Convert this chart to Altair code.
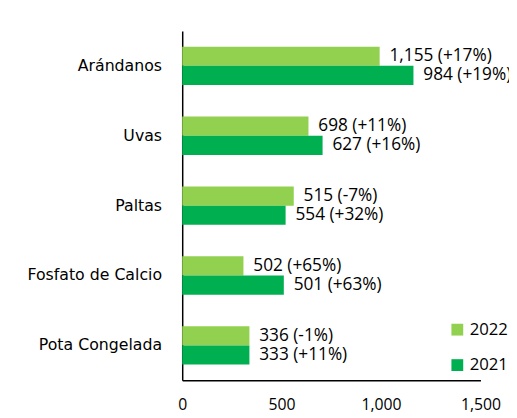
import altair as alt
import pandas as pd

categories = ["Arándanos", "Uvas", "Paltas", "Fosfato de Calcio", "Pota Congelada"]
years = ["2022", "2021"]
bar_2022 = [993, 635, 561, 308, 338]
bar_2021 = [1163, 706, 520, 511, 338]
label_2022 = ["1,155 (+17%)", "698 (+11%)", "515 (-7%)", "502 (+65%)", "336 (-1%)"]
label_2021 = ["984 (+19%)", "627 (+16%)", "554 (+32%)", "501 (+63%)", "333 (+11%)"]
x_ticks = [0, 500, 1000, 1500]
colors = ["#92D050", "#00B050"]

rows = []
for i, c in enumerate(categories):
    rows.append({"cat": c, "year": "2022", "value": bar_2022[i], "label": label_2022[i]})
    rows.append({"cat": c, "year": "2021", "value": bar_2021[i], "label": label_2021[i]})
df = pd.DataFrame(rows)

FONT = "Open Sans"

y = alt.Y("cat:N", sort=categories, title=None,
          scale=alt.Scale(paddingInner=0.45, paddingOuter=0.225),
          axis=alt.Axis(ticks=False, domainColor="#000000", domainWidth=1.5,
                        labelPadding=21, labelFontSize=16, labelFont="DejaVu Sans",
                        labelColor="#000000", labelLimit=300))
yoff = alt.YOffset("year:N", sort=years)
x = alt.X("value:Q", title=None,
          scale=alt.Scale(domain=[0, 1500], nice=False),
          axis=alt.Axis(values=x_ticks, format=",d", ticks=False, grid=False,
                        domainColor="#000000", domainWidth=1.5, labelPadding=17,
                        labelFontSize=16, labelFont=FONT, labelColor="#000000",
                        labelFlush=False))

bars = alt.Chart(df).mark_bar().encode(
    y=y, yOffset=yoff, x=x,
    color=alt.Color("year:N", sort=years,
                    scale=alt.Scale(domain=years, range=colors),
                    legend=alt.Legend(title=None, orient="none", legendX=271, legendY=295,
                                      symbolType="square", symbolSize=144,
                                      symbolStrokeWidth=0, labelFontSize=17,
                                      labelFont=FONT, labelColor="#000000",
                                      labelOffset=4, rowPadding=18)),
)

text = alt.Chart(df).mark_text(align="left", baseline="middle", dx=10,
                               fontSize=17.5, font=FONT, color="#000000").encode(
    y=alt.Y("cat:N", sort=categories), yOffset=yoff, x="value:Q", text="label:N"
)

chart = (bars + text).properties(
    width=303, height=355,
    autosize=alt.AutoSizeParams(type="none"),
    padding={"left": 177, "top": 20, "right": 29, "bottom": 37},
).configure_view(stroke=None)

chart.save("out.html", embed_options={"renderer": "svg", "actions": False})
